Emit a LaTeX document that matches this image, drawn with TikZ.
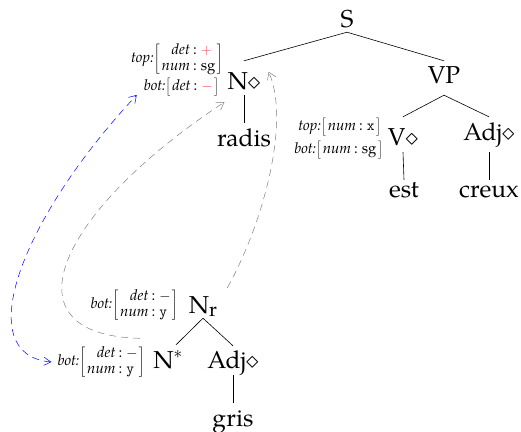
\documentclass[tikz,border=0pt]{standalone}
\usepackage{fontspec}
\setmainfont{TeX Gyre Pagella}
\usetikzlibrary{arrows.meta}
\newcommand{\featbox}[2]{{\fontsize{15}{16.5}\selectfont\textit{#1}$\left[\begin{tabular}{@{\hspace{2pt}}r@{\hspace{3pt}:\hspace{4pt}}l@{\hspace{1.5pt}}}#2\end{tabular}\right]$}}
\newcommand{\redval}[1]{\textcolor{red!75}{$#1$}}
\tikzset{
  treenode/.style={anchor=base, inner sep=0pt, text height=17pt, text depth=5pt, font=\fontsize{24.5}{28}\selectfont},
  featnode/.style={anchor=east, inner sep=0pt},
  edge/.style={line width=0.6pt},
  grayarrow/.style={gray, line width=0.5pt, dash pattern=on 7pt off 5pt, -{Straight Barb[length=7pt,width=9pt]}},
  bluearrow/.style={blue, line width=0.5pt, dash pattern=on 7pt off 5pt, {Straight Barb[length=7pt,width=8pt]}-{Straight Barb[length=7pt,width=9pt]}}
}
\begin{document}
\begin{tikzpicture}[x=1pt,y=-1pt]
\useasboundingbox (0,0) rectangle (521,431);
% tree nodes
\node[treenode] (S) at (347,27) {S};
\node[treenode] (n1) at (244,89) {N$\diamond$};
\node[treenode] (radis) at (244,146) {radis};
\node[treenode] (VP) at (444,83) {VP};
\node[treenode] (V) at (403,145) {V$\diamond$};
\node[treenode] (adj1) at (489,140) {Adj$\diamond$};
\node[treenode] (est) at (404,197) {est};
\node[treenode] (creux) at (489,197) {creux};
\node[treenode] (Nr) at (203,313) {N\raisebox{-3pt}{\fontsize{20}{20}\selectfont r}};
\node[treenode] (Ns) at (168,368) {N$^{*}$};
\node[treenode] (adj2) at (233,368) {Adj$\diamond$};
\node[treenode] (gris) at (233,426) {gris};
% feature structures
\node[featnode] (f1top) at (223,59) {\featbox{top:}{\textit{det} & \redval{+}\\ \textit{num} & sg}};
\node[featnode] (f1bot) at (219,87) {\featbox{bot:}{\textit{det} & \redval{-}}};
\node[featnode] (fVtop) at (381,127) {\featbox{top:}{\textit{num} & \texttt{x}}};
\node[featnode] (fVbot) at (383,150) {\featbox{bot:}{\textit{num} & sg}};
\node[featnode] (fNr) at (178,305) {\featbox{bot:}{\textit{det} & $-$\\ \textit{num} & \texttt{y}}};
\node[featnode] (fNs) at (145,362) {\featbox{bot:}{\textit{det} & $-$\\ \textit{num} & \texttt{y}}};
% tree edges
\draw[edge] (S.south) -- ([yshift=11pt]n1.north);
\draw[edge] (S.south) -- ([yshift=5pt]VP.north);
\draw[edge] ([yshift=-1pt]n1.south) -- ([yshift=6pt]radis.north);
\draw[edge] ([yshift=-7pt]VP.south) -- ([yshift=11pt]V.north);
\draw[edge] ([yshift=-7pt]VP.south) -- ([yshift=6pt]adj1.north);
\draw[edge] ([yshift=-2pt]V.south) -- (est.north);
\draw[edge] ([yshift=-7pt]adj1.south) -- (creux.north);
\draw[edge] (Nr.south) -- ([xshift=8pt,yshift=6pt]Ns.north);
\draw[edge] (Nr.south) -- ([yshift=5pt]adj2.north);
\draw[edge] ([yshift=-2pt]adj2.south) -- ([yshift=6pt]gris.north);
% dashed arrows
\draw[bluearrow] ([xshift=-6pt]fNs.west) .. controls (-30,355) and (20,220) .. ([xshift=-7pt,yshift=-8pt]f1bot.west);
\draw[grayarrow] ([xshift=-5pt,yshift=7pt]fNs.north east) .. controls (0,335) and (60,210) .. ([xshift=-3pt,yshift=-8pt]n1.south west);
\draw[grayarrow] ([xshift=10pt,yshift=8pt]Nr.north east) .. controls (265,220) and (290,120) .. ([xshift=8pt]n1.north east);
\end{tikzpicture}
\end{document}
